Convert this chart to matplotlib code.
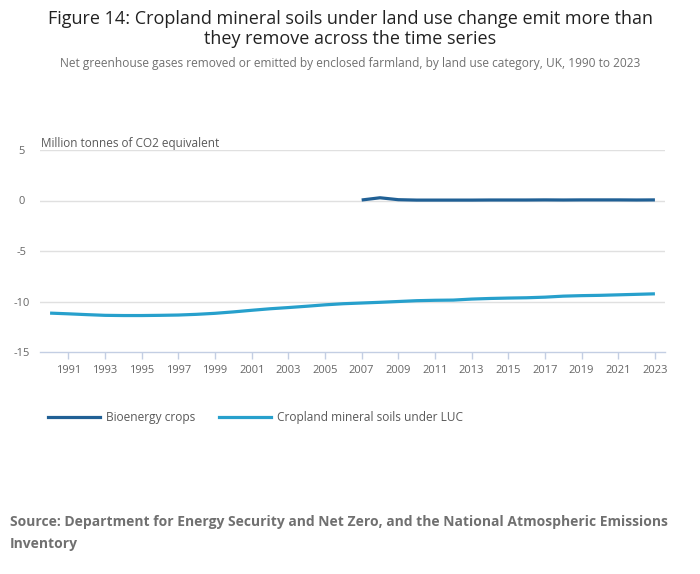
import matplotlib
matplotlib.use("Agg")
import matplotlib.pyplot as plt
from matplotlib.lines import Line2D

plt.rcParams['font.family'] = ['Open Sans', 'DejaVu Sans']
plt.rcParams['axes.unicode_minus'] = False

years = list(range(1990, 2024))
bio_years = list(range(2007, 2024))

bioenergy = [0.05, 0.27, 0.08, 0.04, 0.04, 0.04, 0.04, 0.05, 0.05, 0.05,
             0.06, 0.05, 0.06, 0.06, 0.06, 0.05, 0.06]
cropland = [-11.15, -11.22, -11.3, -11.37, -11.39, -11.39, -11.37, -11.34, -11.27, -11.17,
            -11.03, -10.87, -10.72, -10.6, -10.47, -10.33, -10.22, -10.15, -10.08, -10.0,
            -9.92, -9.88, -9.86, -9.76, -9.7, -9.66, -9.63, -9.57, -9.47, -9.42,
            -9.39, -9.34, -9.29, -9.24]

yticks = [5, 0, -5, -10, -15]
xticks = list(range(1991, 2024, 2))

dark_blue = '#206095'
light_blue = '#27a0cc'
axis_col = '#c3cee3'
grey = '#707070'

fig = plt.figure(figsize=(7, 5.74), dpi=100)
ax = fig.add_axes([40 / 700, 1 - 352 / 574, 625 / 700, 202 / 574])

ax.plot(years, cropland, color=light_blue, lw=2.3, solid_capstyle='butt')
ax.plot(bio_years, bioenergy, color=dark_blue, lw=2.3, solid_capstyle='butt')

ax.set_xlim(1989.45, 2023.55)
ax.set_ylim(-15, 5)
ax.set_yticks(yticks)
ax.set_yticklabels([str(v) for v in yticks])
ax.set_xticks(xticks)
ax.set_xticklabels([str(v) for v in xticks])

for v in yticks[:-1]:
    ax.axhline(v, color='#e0e0e0', lw=1, zorder=0)

for s in ['top', 'right', 'left']:
    ax.spines[s].set_visible(False)
ax.spines['bottom'].set_color(axis_col)
ax.spines['bottom'].set_linewidth(1)

ax.tick_params(axis='y', length=0, pad=13.5, labelsize=8, labelcolor='#666666')
for lab in ax.get_yticklabels():
    lab.set_ha('center')
ax.tick_params(axis='x', length=5, width=1, color=axis_col, pad=4.5,
               labelsize=8, labelcolor='#666666')

fig.text(41 / 700, 1 - 143 / 574, 'Million tonnes of CO2 equivalent',
         fontsize=8.5, color='#595959', va='center', ha='left')

fig.text(0.5, 1 - 19 / 574,
         'Figure 14: Cropland mineral soils under land use change emit more than',
         fontsize=13.0, color='#222222', ha='center', va='center')
fig.text(0.5, 1 - 39 / 574, 'they remove across the time series',
         fontsize=13.0, color='#222222', ha='center', va='center')
fig.text(0.5, 1 - 64 / 574,
         'Net greenhouse gases removed or emitted by enclosed farmland, by land use category, UK, 1990 to 2023',
         fontsize=8.6, color=grey, ha='center', va='center')

handles = [Line2D([], [], color=dark_blue, lw=2.3),
           Line2D([], [], color=light_blue, lw=2.3)]
fig.legend(handles, ['Bioenergy crops', 'Cropland mineral soils under LUC'],
           loc='center left', bbox_to_anchor=(48 / 700, 1 - 417.5 / 574),
           ncol=2, frameon=False, fontsize=8.6, handlelength=4.35,
           handletextpad=0.5, columnspacing=2.0, labelcolor='#595959',
           borderpad=0, borderaxespad=0)

fig.text(10 / 700, 1 - 522 / 574,
         'Source: Department for Energy Security and Net Zero, and the National Atmospheric Emissions',
         fontsize=10.0, color=grey, fontweight='bold', ha='left', va='center')
fig.text(10 / 700, 1 - 544 / 574, 'Inventory',
         fontsize=10.0, color=grey, fontweight='bold', ha='left', va='center')

fig.savefig('out.png', dpi=100)
